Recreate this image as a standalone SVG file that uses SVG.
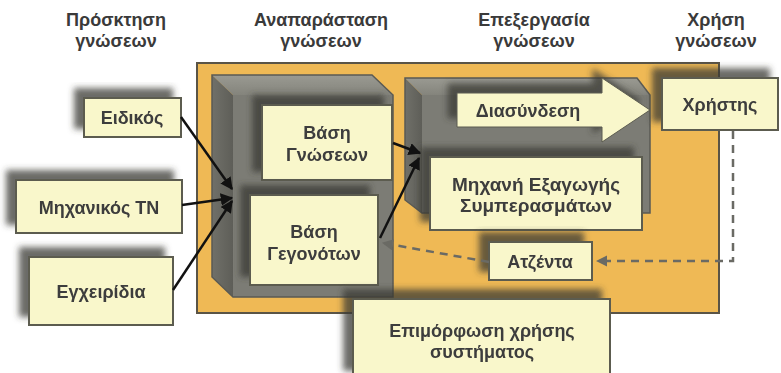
<svg xmlns="http://www.w3.org/2000/svg" width="781" height="373" viewBox="0 0 781 373">
<defs>
<style>
.hdr{font-family:"Liberation Sans",Arial,sans-serif;font-weight:bold;font-size:18px;fill:#3a3a3a;text-anchor:middle}
.lbl{font-family:"Liberation Sans",Arial,sans-serif;font-weight:bold;font-size:18px;fill:#3c3c3c;text-anchor:middle}
.big{font-size:19px}
.box{fill:#f9f7cb;stroke:#5b5b50;stroke-width:2}
.blk{stroke:#111;stroke-width:2.5;fill:none;marker-end:url(#ah)}
.dsh{stroke:#6a6a64;stroke-width:2.5;fill:none;stroke-dasharray:8 6}
</style>
<filter id="sh" x="-30%" y="-40%" width="150%" height="170%">
<feGaussianBlur in="SourceAlpha" stdDeviation="3"/>
<feOffset dx="-9" dy="-9" result="b"/>
<feFlood flood-color="#3a3a34" flood-opacity="0.75"/>
<feComposite in2="b" operator="in"/>
<feMerge><feMergeNode/><feMergeNode in="SourceGraphic"/></feMerge>
</filter>
<linearGradient id="top" x1="0" y1="0" x2="0" y2="1"><stop offset="0" stop-color="#9a9a92"/><stop offset="1" stop-color="#84847c"/></linearGradient>
<linearGradient id="left" x1="0" y1="0" x2="1" y2="0"><stop offset="0" stop-color="#707069"/><stop offset="1" stop-color="#5e5e58"/></linearGradient>
<marker id="ah" viewBox="0 0 10 10" refX="9" refY="5" markerWidth="5" markerHeight="5" orient="auto"><path d="M0,0 L10,5 L0,10 z" fill="#111"/></marker>
<marker id="gh" viewBox="0 0 10 10" refX="9" refY="5" markerWidth="4.5" markerHeight="4.5" orient="auto"><path d="M0,0 L10,5 L0,10 z" fill="#6a6a64"/></marker>
</defs>
<rect width="781" height="373" fill="#fff"/>
<text class="hdr" x="116" y="26">Πρόσκτηση</text>
<text class="hdr" x="116" y="47">γνώσεων</text>
<text class="hdr" x="321" y="26">Αναπαράσταση</text>
<text class="hdr" x="321" y="47">γνώσεων</text>
<text class="hdr" x="534" y="26">Επεξεργασία</text>
<text class="hdr" x="534" y="47">γνώσεων</text>
<text class="hdr" x="716" y="26">Χρήση</text>
<text class="hdr" x="716" y="47">γνώσεων</text>
<g id="frame">
<rect x="197" y="63" width="522" height="250" fill="#efb955" stroke="#5a5446" stroke-width="2"/>
</g>
<g id="representation">
<polygon points="233,95 393,95 393,297 233,297" fill="#7c7c75"/>
<polygon points="212,75 372,75 393,95 233,95" fill="url(#top)"/>
<polygon points="212,75 233,95 233,297 212,277" fill="url(#left)"/>
<polygon points="212,75 372,75 393,95 393,297 233,297 212,277" fill="none" stroke="#5a5a54" stroke-width="1.5"/>
</g>
<g id="processing">
<polygon points="422,95 650,95 650,213 422,213" fill="#7c7c75"/>
<polygon points="405,78 637,78 650,95 422,95" fill="url(#top)"/>
<polygon points="405,78 422,95 422,213 405,200" fill="url(#left)"/>
<polygon points="405,78 637,78 650,95 650,213 422,213 405,200" fill="none" stroke="#5a5a54" stroke-width="1.5"/>
</g>
<g id="n-knowledge-base" filter="url(#sh)">
<rect class="box" x="262" y="105" width="130" height="75"/>
<text class="lbl" x="327" y="139">Βάση</text>
<text class="lbl" x="327" y="161">Γνώσεων</text>
</g>
<g id="n-fact-base" filter="url(#sh)">
<rect class="box" x="250" y="195" width="128" height="90"/>
<text class="lbl" x="314" y="238">Βάση</text>
<text class="lbl" x="314" y="260">Γεγονότων</text>
</g>
<g id="n-interface" filter="url(#sh)">
<polygon points="457,93 602,93 602,78 650,110 602,142 602,127 457,127" fill="#f9f7cb" stroke="#5b5b50" stroke-width="1"/>
<text class="lbl" x="528" y="117">Διασύνδεση</text>
</g>
<g id="n-inference" filter="url(#sh)">
<rect class="box" x="430" y="157" width="212" height="73"/>
<text class="lbl big" x="536" y="191">Μηχανή Εξαγωγής</text>
<text class="lbl big" x="536" y="212">Συμπερασμάτων</text>
</g>
<g id="n-user" filter="url(#sh)">
<rect class="box" x="662" y="78" width="116" height="52"/>
<text class="lbl" x="720" y="111">Χρήστης</text>
</g>
<g id="n-agenda" filter="url(#sh)">
<rect class="box" x="489" y="242" width="103" height="38"/>
<text class="lbl" x="540" y="268">Ατζέντα</text>
</g>
<g id="n-expert" filter="url(#sh)">
<rect class="box" x="84" y="98" width="97" height="39"/>
<text class="lbl" x="132" y="124">Ειδικός</text>
</g>
<g id="n-engineer" filter="url(#sh)">
<rect class="box" x="16" y="180" width="166" height="53"/>
<text class="lbl" x="99" y="214">Μηχανικός ΤΝ</text>
</g>
<g id="n-manuals" filter="url(#sh)">
<rect class="box" x="29" y="257" width="144" height="68"/>
<text class="lbl" x="101" y="298">Εγχειρίδια</text>
</g>
<g id="n-training" filter="url(#sh)">
<rect class="box" x="353" y="299" width="257" height="80"/>
<text class="lbl" x="482" y="337">Επιμόρφωση χρήσης</text>
<text class="lbl" x="482" y="358">συστήματος</text>
</g>
<g id="connectors">
<line class="blk" x1="181" y1="117" x2="232" y2="189"/>
<line class="blk" x1="182" y1="205" x2="232" y2="198"/>
<line class="blk" x1="173" y1="290" x2="232" y2="201"/>
<line class="blk" x1="393" y1="143" x2="420" y2="153"/>
<line class="blk" x1="380" y1="238" x2="419" y2="158"/>
<polyline class="dsh" points="733,131 733,261 597,261" marker-end="url(#gh)"/>
<line class="dsh" x1="489" y1="262" x2="383" y2="243" marker-end="url(#gh)"/>
</g>
</svg>
